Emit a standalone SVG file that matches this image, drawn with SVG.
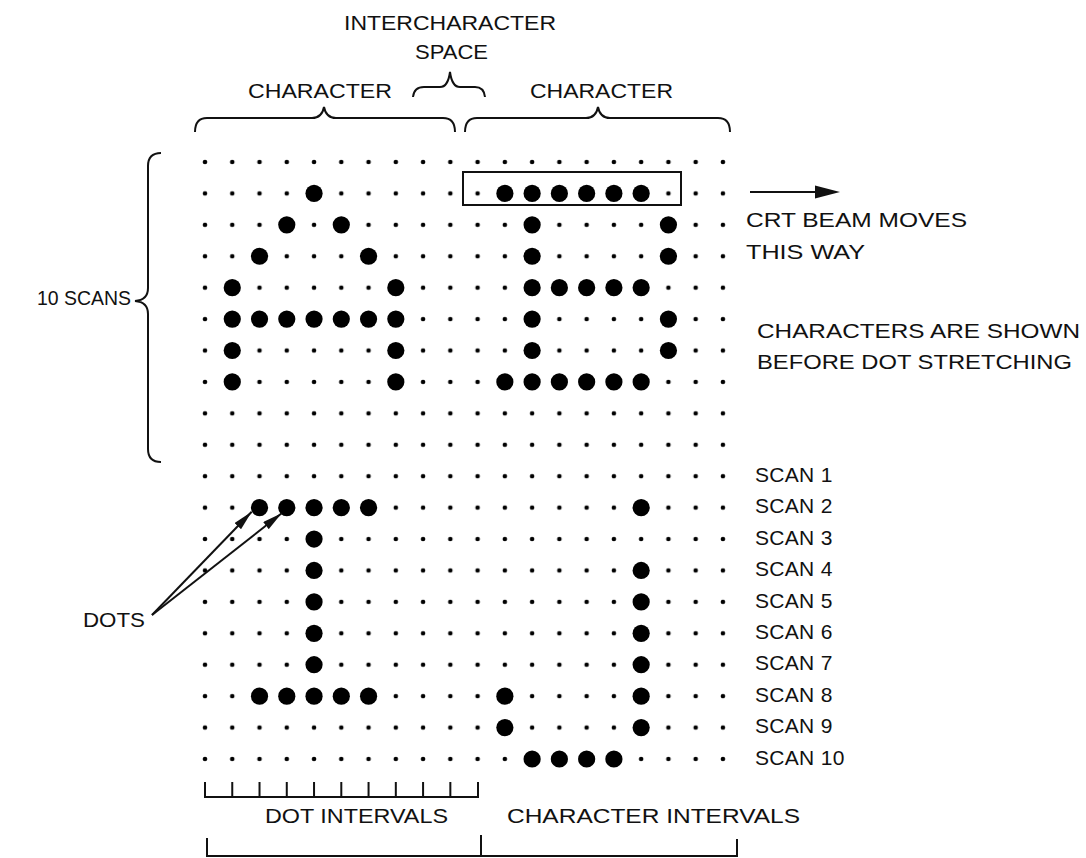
<svg xmlns="http://www.w3.org/2000/svg" xmlns:xlink="http://www.w3.org/1999/xlink" width="1086" height="858" viewBox="0 0 1086 858">
<style>
  text { font-family: "Liberation Sans", Arial, Helvetica, sans-serif; font-size: 21px; fill: #111; }
  .scan { letter-spacing: 0.3px; }
  .ln { fill: none; stroke: #111; stroke-width: 2; stroke-linecap: butt; stroke-linejoin: miter; }
  .big { fill: #000; }
</style>
<defs>
  <pattern id="grid" patternUnits="userSpaceOnUse" x="191.37" y="146.29" width="27.26" height="31.42">
    <circle cx="13.63" cy="15.71" r="2.3" fill="#000"/>
  </pattern>
  <circle id="bd" r="8.6" class="big"/>
  <marker id="ah" viewBox="0 0 20 9" markerWidth="20" markerHeight="9" refX="20" refY="4.5" orient="auto" markerUnits="userSpaceOnUse">
    <path d="M0,0 L20,4.5 L0,9 Z" fill="#111"/>
  </marker>
</defs>
<rect width="1086" height="858" fill="#fff"/>

<g id="dot-grid">
  <rect x="191.37" y="146.29" width="545.2" height="628.4" fill="url(#grid)"/>
</g>

<g id="char-A">
  <use href="#bd" x="314.04" y="193.42"/>
  <use href="#bd" x="286.78" y="224.84"/><use href="#bd" x="341.30" y="224.84"/>
  <use href="#bd" x="259.52" y="256.26"/><use href="#bd" x="368.56" y="256.26"/>
  <use href="#bd" x="232.26" y="287.68"/><use href="#bd" x="395.82" y="287.68"/>
  <use href="#bd" x="232.26" y="319.10"/><use href="#bd" x="259.52" y="319.10"/><use href="#bd" x="286.78" y="319.10"/><use href="#bd" x="314.04" y="319.10"/><use href="#bd" x="341.30" y="319.10"/><use href="#bd" x="368.56" y="319.10"/><use href="#bd" x="395.82" y="319.10"/>
  <use href="#bd" x="232.26" y="350.52"/><use href="#bd" x="395.82" y="350.52"/>
  <use href="#bd" x="232.26" y="381.94"/><use href="#bd" x="395.82" y="381.94"/>
</g>

<g id="char-B">
  <use href="#bd" x="504.86" y="193.42"/><use href="#bd" x="532.12" y="193.42"/><use href="#bd" x="559.38" y="193.42"/><use href="#bd" x="586.64" y="193.42"/><use href="#bd" x="613.90" y="193.42"/><use href="#bd" x="641.16" y="193.42"/>
  <use href="#bd" x="532.12" y="224.84"/><use href="#bd" x="668.42" y="224.84"/>
  <use href="#bd" x="532.12" y="256.26"/><use href="#bd" x="668.42" y="256.26"/>
  <use href="#bd" x="532.12" y="287.68"/><use href="#bd" x="559.38" y="287.68"/><use href="#bd" x="586.64" y="287.68"/><use href="#bd" x="613.90" y="287.68"/><use href="#bd" x="641.16" y="287.68"/>
  <use href="#bd" x="532.12" y="319.10"/><use href="#bd" x="668.42" y="319.10"/>
  <use href="#bd" x="532.12" y="350.52"/><use href="#bd" x="668.42" y="350.52"/>
  <use href="#bd" x="504.86" y="381.94"/><use href="#bd" x="532.12" y="381.94"/><use href="#bd" x="559.38" y="381.94"/><use href="#bd" x="586.64" y="381.94"/><use href="#bd" x="613.90" y="381.94"/><use href="#bd" x="641.16" y="381.94"/>
</g>

<g id="char-I">
  <use href="#bd" x="259.52" y="507.62"/><use href="#bd" x="286.78" y="507.62"/><use href="#bd" x="314.04" y="507.62"/><use href="#bd" x="341.30" y="507.62"/><use href="#bd" x="368.56" y="507.62"/>
  <use href="#bd" x="314.04" y="539.04"/>
  <use href="#bd" x="314.04" y="570.46"/>
  <use href="#bd" x="314.04" y="601.88"/>
  <use href="#bd" x="314.04" y="633.30"/>
  <use href="#bd" x="314.04" y="664.72"/>
  <use href="#bd" x="259.52" y="696.14"/><use href="#bd" x="286.78" y="696.14"/><use href="#bd" x="314.04" y="696.14"/><use href="#bd" x="341.30" y="696.14"/><use href="#bd" x="368.56" y="696.14"/>
</g>

<g id="char-J">
  <use href="#bd" x="641.16" y="507.62"/>
  <use href="#bd" x="641.16" y="570.46"/>
  <use href="#bd" x="641.16" y="601.88"/>
  <use href="#bd" x="641.16" y="633.30"/>
  <use href="#bd" x="641.16" y="664.72"/>
  <use href="#bd" x="504.86" y="696.14"/><use href="#bd" x="641.16" y="696.14"/>
  <use href="#bd" x="504.86" y="727.56"/><use href="#bd" x="641.16" y="727.56"/>
  <use href="#bd" x="532.12" y="758.98"/><use href="#bd" x="559.38" y="758.98"/><use href="#bd" x="586.64" y="758.98"/><use href="#bd" x="613.90" y="758.98"/>
</g>

<g id="scan-box">
  <rect x="463" y="172" width="218" height="33" class="ln"/>
</g>

<g id="connectors">
  <path class="ln" d="M195,132 Q195,118 207,118 L312,118 Q322,118 324,107 Q326,118 336,118 L443,118 Q455,118 455,132"/>
  <path class="ln" d="M465,132 Q465,118 477,118 L586,118 Q596,118 598,107 Q600,118 610,118 L718,118 Q730,118 730,132"/>
  <path class="ln" d="M413,97 Q414,87 424,87 L440,87 Q448,87 450,72 Q452,87 460,87 L475,87 Q484,87 485,97"/>
  <path class="ln" d="M161,153 Q148,153 148,166 L148,288 Q148,300 135,301 Q148,302 148,314 L148,449 Q148,462 161,462"/>
  <line class="ln" x1="750" y1="192" x2="818" y2="192"/>
  <polygon points="815,185.5 840,192 815,198.5" fill="#111"/>
  <line class="ln" x1="152" y1="615" x2="251.7" y2="511.7" marker-end="url(#ah)" stroke-width="1.8"/>
  <line class="ln" x1="152" y1="615" x2="281.7" y2="513.3" marker-end="url(#ah)" stroke-width="1.8"/>
  <path class="ln" d="M205,782 V797 H478 V782 M232.26,782 V797 M259.52,782 V797 M286.78,782 V797 M314.04,782 V797 M341.30,782 V797 M368.56,782 V797 M395.82,782 V797 M423.08,782 V797 M450.34,782 V797"/>
  <path class="ln" d="M207,838 V856 H737 V839 M481,835 V856"/>
</g>

<g id="labels">
  <text x="344" y="30" textLength="212" lengthAdjust="spacingAndGlyphs">INTERCHARACTER</text>
  <text x="415" y="59" textLength="73" lengthAdjust="spacingAndGlyphs">SPACE</text>
  <text x="248" y="98" textLength="144" lengthAdjust="spacingAndGlyphs">CHARACTER</text>
  <text x="530" y="98" textLength="143" lengthAdjust="spacingAndGlyphs">CHARACTER</text>
  <text x="37" y="305" textLength="94" lengthAdjust="spacingAndGlyphs">10 SCANS</text>
  <text x="746" y="227" textLength="221" lengthAdjust="spacingAndGlyphs">CRT BEAM MOVES</text>
  <text x="746" y="259" textLength="119" lengthAdjust="spacingAndGlyphs">THIS WAY</text>
  <text x="757" y="338" textLength="323" lengthAdjust="spacingAndGlyphs">CHARACTERS ARE SHOWN</text>
  <text x="757" y="369" textLength="315" lengthAdjust="spacingAndGlyphs">BEFORE DOT STRETCHING</text>
  <text x="83" y="627" textLength="62" lengthAdjust="spacingAndGlyphs">DOTS</text>
  <text x="265" y="823" textLength="183" lengthAdjust="spacingAndGlyphs">DOT INTERVALS</text>
  <text x="507" y="823" textLength="293" lengthAdjust="spacingAndGlyphs">CHARACTER INTERVALS</text>
</g>

<g id="scan-labels">
  <text class="scan" x="755" y="482">SCAN 1</text>
  <text class="scan" x="755" y="513.4">SCAN 2</text>
  <text class="scan" x="755" y="544.8">SCAN 3</text>
  <text class="scan" x="755" y="576.2">SCAN 4</text>
  <text class="scan" x="755" y="607.6">SCAN 5</text>
  <text class="scan" x="755" y="639">SCAN 6</text>
  <text class="scan" x="755" y="670.4">SCAN 7</text>
  <text class="scan" x="755" y="701.8">SCAN 8</text>
  <text class="scan" x="755" y="733.2">SCAN 9</text>
  <text class="scan" x="755" y="764.6">SCAN 10</text>
</g>
</svg>
